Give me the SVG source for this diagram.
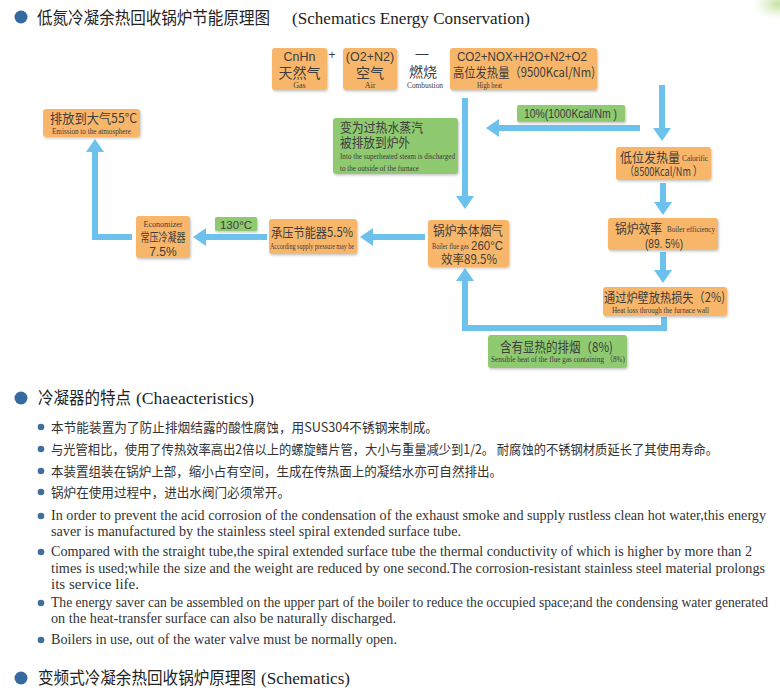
<svg xmlns="http://www.w3.org/2000/svg" width="780" height="695" viewBox="0 0 780 695">
<defs>
<style>
.o{fill:#f8b66b}
.g{fill:#8fc96f}
.cn{font-family:"Noto Sans CJK SC","Liberation Sans",sans-serif;fill:#3d3d3d}
.sf{font-family:"Liberation Serif","Noto Sans CJK SC",serif;fill:#3d3d3d}
.ss{font-family:"Liberation Sans","Noto Sans CJK SC",sans-serif;fill:#3d3d3d}
.bt{font-family:"Noto Sans CJK SC",sans-serif;fill:#333;font-size:13px}
.be{font-family:"Liberation Serif",serif;fill:#333;font-size:14px}
.hd{font-family:"Noto Sans CJK SC",sans-serif;fill:#222;font-size:17px}
.he{font-family:"Liberation Serif",serif;fill:#222;font-size:17.5px}
.m{text-anchor:middle}
.c{fill:none;stroke:#6cc2ec;stroke-width:6;stroke-linejoin:miter;marker-end:url(#ah)}
.bul{fill:#3569a0}
.sb{fill:#3f6f9c}
</style>
<marker id="ah" markerUnits="userSpaceOnUse" markerWidth="14" markerHeight="18" viewBox="0 0 14 18" refX="5" refY="9" orient="auto">
<path d="M0,0 L13,9 L0,18 Z" fill="#6cc2ec"/>
</marker>
<filter id="sh" x="-10%" y="-10%" width="125%" height="135%">
<feDropShadow dx="1" dy="1.5" stdDeviation="1.2" flood-color="#000" flood-opacity="0.22"/>
</filter>
<radialGradient id="gl" cx="0.5" cy="0.5" r="0.5">
<stop offset="0" stop-color="#b5d98a" stop-opacity="0.8"/>
<stop offset="1" stop-color="#d9ecc4" stop-opacity="0"/>
</radialGradient>
</defs>
<rect width="780" height="695" fill="#fff"/>
<ellipse cx="778" cy="4" rx="26" ry="16" fill="url(#gl)"/>

<!-- heading 1 -->
<g id="title1">
<circle class="bul" cx="21" cy="17" r="6.5"/>
<text class="hd" x="37" y="24" textLength="233" lengthAdjust="spacingAndGlyphs">低氮冷凝余热回收锅炉节能原理图</text>
<text class="he" x="292" y="24" textLength="238" lengthAdjust="spacingAndGlyphs">(Schematics Energy Conservation)</text>
</g>

<!-- connectors -->
<g id="connectors">
<path class="c" d="M465,98 V201"/>
<path class="c" d="M662,85 V133"/>
<path class="c" d="M640,128 H494"/>
<path class="c" d="M425,237 H368"/>
<path class="c" d="M267,237 H201"/>
<path class="c" d="M132,237 H95 V147"/>
<path class="c" d="M663,183 V207"/>
<path class="c" d="M663,252 V275"/>
<path class="c" d="M664,317 V328 H465 V276"/>
</g>

<!-- top row -->
<g id="gas">
<rect class="o" x="272" y="48" width="55" height="42" rx="3" filter="url(#sh)"/>
<text class="ss m" x="299.5" y="60.5" font-size="12.5">CnHn</text>
<text class="cn m" x="299.5" y="77.5" font-size="14">天然气</text>
<text class="sf m" x="299.5" y="88" font-size="8">Gas</text>
</g>
<text class="ss m" x="332" y="59" font-size="12">+</text>
<g id="air">
<rect class="o" x="343" y="48" width="54" height="42" rx="3" filter="url(#sh)"/>
<text class="ss m" x="370" y="60.5" font-size="12.5">(O2+N2)</text>
<text class="cn m" x="370" y="77.5" font-size="14">空气</text>
<text class="sf m" x="370" y="88" font-size="8">Air</text>
</g>
<g id="combustion">
<text class="ss m" x="422" y="58" font-size="13">—</text>
<text class="cn m" x="423" y="77" font-size="14">燃烧</text>
<text class="sf m" x="425" y="88" font-size="8" textLength="36" lengthAdjust="spacingAndGlyphs">Combustion</text>
</g>
<g id="highheat">
<rect class="o" x="450" y="48" width="147" height="42" rx="3" filter="url(#sh)"/>
<text class="ss" x="457" y="61" font-size="13" textLength="130" lengthAdjust="spacingAndGlyphs">CO2+NOX+H2O+N2+O2</text>
<text class="cn" x="453" y="77" font-size="13" textLength="142" lengthAdjust="spacingAndGlyphs">高位发热量（9500Kcal/Nm)</text>
<text class="sf" x="477" y="88" font-size="8" textLength="25" lengthAdjust="spacingAndGlyphs">High heat</text>
</g>

<!-- 10% label -->
<g id="lbl10">
<rect class="g" x="517" y="105" width="108" height="17" rx="2" filter="url(#sh)"/>
<text class="ss" x="524" y="118" font-size="12" textLength="93" lengthAdjust="spacingAndGlyphs">10%(1000Kcal/Nm )</text>
</g>

<!-- steam -->
<g id="steam">
<rect class="g" x="333" y="118" width="125" height="56" rx="3" filter="url(#sh)"/>
<text class="cn" x="340" y="131.5" font-size="13" textLength="83" lengthAdjust="spacingAndGlyphs">变为过热水蒸汽</text>
<text class="cn" x="340" y="146.5" font-size="13" textLength="70" lengthAdjust="spacingAndGlyphs">被排放到炉外</text>
<text class="sf" x="340" y="159" font-size="8" textLength="115" lengthAdjust="spacingAndGlyphs">Into the superheated steam is discharged</text>
<text class="sf" x="340" y="171" font-size="8" textLength="79" lengthAdjust="spacingAndGlyphs">to the outside of the furnace</text>
</g>

<!-- emission -->
<g id="emission">
<rect class="o" x="43" y="109" width="97" height="28" rx="3" filter="url(#sh)"/>
<text class="cn" x="50" y="123" font-size="13" textLength="87" lengthAdjust="spacingAndGlyphs">排放到大气55°C</text>
<text class="sf" x="52" y="133.5" font-size="8" textLength="79" lengthAdjust="spacingAndGlyphs">Emission to the atmosphere</text>
</g>

<!-- low calorific -->
<g id="lowheat">
<rect class="o" x="616" y="147" width="95" height="33" rx="3" filter="url(#sh)"/>
<text class="cn" x="620" y="162" font-size="13" textLength="60" lengthAdjust="spacingAndGlyphs">低位发热量</text>
<text class="sf" x="682" y="161" font-size="8" textLength="26" lengthAdjust="spacingAndGlyphs">Calorific</text>
<text class="cn" x="625" y="176" font-size="12" textLength="77" lengthAdjust="spacingAndGlyphs">（8500Kcal/Nm ）</text>
</g>

<!-- boiler flue gas -->
<g id="boiler">
<rect class="o" x="428" y="220" width="81" height="47" rx="3" filter="url(#sh)"/>
<text class="cn" x="433" y="235" font-size="13" textLength="70" lengthAdjust="spacingAndGlyphs">锅炉本体烟气</text>
<text class="sf" x="432" y="249" font-size="7.5" textLength="37" lengthAdjust="spacingAndGlyphs">Boiler flue gas</text>
<text class="ss" x="471" y="249.5" font-size="12" textLength="32" lengthAdjust="spacingAndGlyphs">260°C</text>
<text class="cn" x="441" y="264" font-size="12.5" textLength="56" lengthAdjust="spacingAndGlyphs">效率89.5%</text>
</g>

<!-- pressure economizer -->
<g id="pressure">
<rect class="o" x="269" y="219" width="88" height="35" rx="3" filter="url(#sh)"/>
<text class="cn" x="271" y="237" font-size="13" textLength="82" lengthAdjust="spacingAndGlyphs">承压节能器5.5%</text>
<text class="sf" x="270" y="249" font-size="8" textLength="84" lengthAdjust="spacingAndGlyphs">According supply pressure may be</text>
</g>

<!-- 130 label -->
<g id="lbl130">
<rect class="g" x="215" y="217" width="42" height="14" rx="1.5" filter="url(#sh)"/>
<text class="ss m" x="236" y="228.5" font-size="11.5">130°C</text>
</g>

<!-- atmospheric condenser -->
<g id="condenser">
<rect class="o" x="136" y="216" width="54" height="42" rx="3" filter="url(#sh)"/>
<text class="sf m" x="163" y="226.5" font-size="8.5" textLength="39" lengthAdjust="spacingAndGlyphs">Economizer</text>
<text class="cn m" x="163" y="242" font-size="12.5" textLength="45" lengthAdjust="spacingAndGlyphs">常压冷凝器</text>
<text class="ss m" x="163" y="256" font-size="12">7.5%</text>
</g>

<!-- boiler efficiency -->
<g id="efficiency">
<rect class="o" x="608" y="218" width="110" height="32" rx="3" filter="url(#sh)"/>
<text class="cn" x="615" y="233" font-size="13" textLength="47" lengthAdjust="spacingAndGlyphs">锅炉效率</text>
<text class="sf" x="667" y="232" font-size="8" textLength="48" lengthAdjust="spacingAndGlyphs">Boiler efficiency</text>
<text class="ss" x="645" y="248" font-size="12" textLength="38" lengthAdjust="spacingAndGlyphs">(89. 5%)</text>
</g>

<!-- furnace wall loss -->
<g id="wallloss">
<rect class="o" x="603" y="287" width="124" height="29" rx="3" filter="url(#sh)"/>
<text class="cn" x="604" y="302" font-size="13" textLength="121" lengthAdjust="spacingAndGlyphs">通过炉壁放热损失（2%)</text>
<text class="sf" x="612" y="312.5" font-size="8" textLength="97" lengthAdjust="spacingAndGlyphs">Heat loss through the furnace wall</text>
</g>

<!-- sensible heat -->
<g id="sensible">
<rect class="g" x="488" y="335" width="139" height="33" rx="3" filter="url(#sh)"/>
<text class="cn" x="500" y="352" font-size="13.5" textLength="113" lengthAdjust="spacingAndGlyphs">含有显热的排烟（8%)</text>
<text class="sf" x="491" y="362" font-size="8" textLength="134" lengthAdjust="spacingAndGlyphs">Sensible heat of the flue gas containing （8%)</text>
</g>

<!-- heading 2 -->
<g id="title2">
<circle class="bul" cx="21" cy="398" r="6.5"/>
<text class="hd" x="38" y="404" textLength="93" lengthAdjust="spacingAndGlyphs">冷凝器的特点</text>
<text class="he" x="136" y="404" textLength="118" lengthAdjust="spacingAndGlyphs">(Chaeacteristics)</text>
</g>

<g id="list">
<circle class="sb" cx="41" cy="427" r="3.3"/>
<text class="bt" x="51" y="432" textLength="387" lengthAdjust="spacingAndGlyphs">本节能装置为了防止排烟结露的酸性腐蚀，用SUS304不锈钢来制成。</text>
<circle class="sb" cx="41" cy="449" r="3.3"/>
<text class="bt" x="51" y="454" textLength="667" lengthAdjust="spacingAndGlyphs">与光管相比，使用了传热效率高出2倍以上的螺旋鳍片管，大小与重量减少到1/2。 耐腐蚀的不锈钢材质延长了其使用寿命。</text>
<circle class="sb" cx="41" cy="471" r="3.3"/>
<text class="bt" x="51" y="476" textLength="451" lengthAdjust="spacingAndGlyphs">本装置组装在锅炉上部，缩小占有空间，生成在传热面上的凝结水亦可自然排出。</text>
<circle class="sb" cx="41" cy="492" r="3.3"/>
<text class="bt" x="51" y="497" textLength="239" lengthAdjust="spacingAndGlyphs">锅炉在使用过程中，进出水阀门必须常开。</text>

<circle class="sb" cx="41" cy="516" r="3.3"/>
<text class="be" x="51" y="520" textLength="715" lengthAdjust="spacingAndGlyphs">In order to prevent the acid corrosion of the condensation of the exhaust smoke and supply rustless clean hot water,this energy</text>
<text class="be" x="51" y="536" textLength="410" lengthAdjust="spacingAndGlyphs">saver is manufactured by the stainless steel spiral extended surface tube.</text>
<circle class="sb" cx="41" cy="552" r="3.3"/>
<text class="be" x="51" y="556" textLength="701" lengthAdjust="spacingAndGlyphs">Compared with the straight tube,the spiral extended surface tube the thermal conductivity of which is higher by more than 2</text>
<text class="be" x="51" y="573" textLength="714" lengthAdjust="spacingAndGlyphs">times is used;while the size and the weight are reduced by one second.The corrosion-resistant stainless steel material prolongs</text>
<text class="be" x="51" y="589" textLength="88" lengthAdjust="spacingAndGlyphs">its service life.</text>
<circle class="sb" cx="41" cy="603" r="3.3"/>
<text class="be" x="51" y="607" font-size="13" textLength="717" lengthAdjust="spacingAndGlyphs">The energy saver can be assembled on the upper part of the boiler to reduce the occupied space;and the condensing water generated</text>
<text class="be" x="51" y="623" textLength="345" lengthAdjust="spacingAndGlyphs">on the heat-transfer surface can also be naturally discharged.</text>
<circle class="sb" cx="41" cy="640" r="3.3"/>
<text class="be" x="51" y="644" textLength="346" lengthAdjust="spacingAndGlyphs">Boilers in use, out of the water valve must be normally open.</text>
</g>

<!-- heading 3 -->
<g id="title3">
<circle class="bul" cx="21" cy="678" r="6.5"/>
<text class="hd" x="38" y="684" textLength="218" lengthAdjust="spacingAndGlyphs">变频式冷凝余热回收锅炉原理图</text>
<text class="he" x="261" y="684" textLength="89" lengthAdjust="spacingAndGlyphs">(Schematics)</text>
</g>
</svg>
